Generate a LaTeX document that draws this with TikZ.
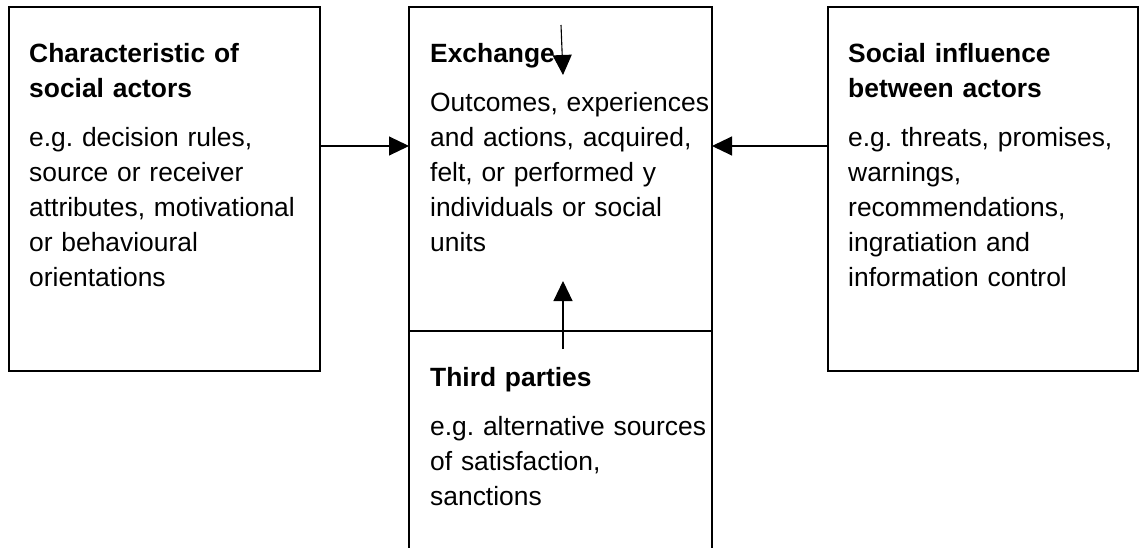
\documentclass[tikz,border=0pt]{standalone}
\usepackage{fontspec}
\setmainfont{Liberation Sans}
\usetikzlibrary{arrows.meta}
\frenchspacing
\begin{document}
\begin{tikzpicture}[x=1pt,y=-1pt,
  panel/.style={draw=black, line width=1.3pt, anchor=north west, inner sep=0pt, outer sep=0pt},
  txt/.style={anchor=base west, align=left, text width=300pt, inner sep=0pt,
    font=\fontsize{26.4}{35}\selectfont},
  link/.style={draw=black, line width=1.1pt, -{Triangle[length=20pt,width=19pt]}}]
\useasboundingbox (0,0) rectangle (1147,548);
\clip (0,0) rectangle (1147,548);

% the four boxes
\node[panel, minimum width=311pt, minimum height=364pt] (actors) at (9,7) {};
\node[panel, minimum width=303pt, minimum height=324pt] (exchange) at (409,7) {};
\node[panel, minimum width=303pt, minimum height=240pt] (third) at (409,331) {};
\node[panel, minimum width=310pt, minimum height=364pt] (influence) at (828,7) {};

% box texts
\node[txt] (actorsText) at (29,63) {\textbf{Characteristic of}\\\textbf{social actors}\\[14pt]
  e.g. decision rules,\\source or receiver\\attributes, motivational\\or behavioural\\orientations};
\node[txt] (exchangeText) at (430,63) {\textbf{Exchange}\\[14pt]
  Outcomes, experiences\\and actions, acquired,\\felt, or performed y\\individuals or social\\units};
\node[txt] (influenceText) at (848,63) {\textbf{Social influence}\\\textbf{between actors}\\[14pt]
  e.g. threats, promises,\\warnings,\\recommendations,\\ingratiation and\\information control};
\node[txt] (thirdText) at (430,386) {\textbf{Third parties}\\[14pt]
  e.g. alternative sources\\of satisfaction,\\sanctions};

% connectors
\draw[link] (actors.east |- 0,146) -- (exchange.west |- 0,146);
\draw[link] (influence.west |- 0,146) -- (exchange.east |- 0,146);
\coordinate (upStart) at (563,349);
\coordinate (upEnd) at (563,281);
\draw[link] (upStart) -- (upEnd);
\coordinate (downStart) at (561,25);
\coordinate (downEnd) at (563,75);
\draw[link] (downStart) -- (downEnd);
\end{tikzpicture}
\end{document}
